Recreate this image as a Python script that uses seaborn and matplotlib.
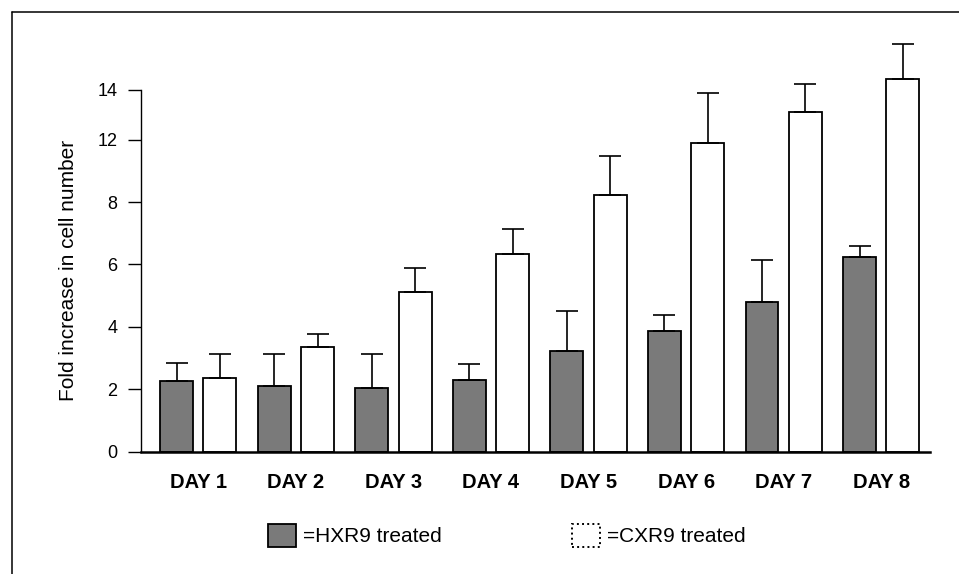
import numpy as np
import pandas as pd
import seaborn as sns
import matplotlib.pyplot as plt
from matplotlib.patches import Patch
from matplotlib.lines import Line2D

sns.set_style('ticks')
plt.rcParams['font.family'] = ['Liberation Sans', 'DejaVu Sans']
plt.rcParams.update({'text.color': 'black', 'axes.labelcolor': 'black',
                     'xtick.color': 'black', 'ytick.color': 'black',
                     'axes.edgecolor': 'black'})

# values, in the axis' own (linear) units
days = ['DAY 1', 'DAY 2', 'DAY 3', 'DAY 4', 'DAY 5', 'DAY 6', 'DAY 7', 'DAY 8']
hxr9 = [2.28, 2.12, 2.04, 2.31, 3.24, 3.87, 4.80, 6.25]
hxr9_err = [0.57, 1.02, 1.10, 0.51, 1.27, 0.52, 1.35, 0.35]
cxr9 = [2.36, 3.35, 5.13, 6.35, 8.24, 9.89, 10.89, 11.96]
cxr9_err = [0.78, 0.43, 0.76, 0.79, 1.25, 1.62, 0.89, 1.11]

# the printed tick labels are not evenly spaced on the original
tick_pos = [0, 2, 4, 6, 8, 10, 11.6]
tick_labels = ['0', '2', '4', '6', '8', '12', '14']

df = pd.DataFrame({
    'day': days * 2,
    'fold': hxr9 + cxr9,
    'treatment': ['HXR9'] * len(days) + ['CXR9'] * len(days),
})
errs = {'HXR9': hxr9_err, 'CXR9': cxr9_err}
gray = '#7a7a7a'

fig = plt.figure(figsize=(9.59, 5.74), dpi=100)
ax = fig.add_axes([0.147, 0.2131, 0.8228, 0.7338])

sns.barplot(data=df, x='day', y='fold', hue='treatment', ax=ax,
            palette={'HXR9': gray, 'CXR9': 'white'}, edgecolor='black',
            linewidth=1.3, width=0.889, gap=0.24, legend=False, errorbar=None,
            saturation=1)

for cont, name in zip(ax.containers, ['HXR9', 'CXR9']):
    xs = [b.get_x() + b.get_width() / 2 for b in cont]
    ys = [b.get_height() for b in cont]
    e = errs[name]
    ax.errorbar(xs, ys, yerr=[np.zeros(len(e)), e], fmt='none', ecolor='black',
                elinewidth=1.2, capsize=7.8, capthick=1.2, zorder=5, clip_on=False)

ax.set_xlim(-0.587, 7.5)
ax.set_ylim(0, 13.5)
ax.set_yticks(tick_pos)
ax.set_yticklabels(tick_labels)
ax.tick_params(axis='y', direction='out', length=9.4, width=1, pad=7.5, labelsize=13)
ax.tick_params(axis='x', length=0, pad=15.5, labelsize=14.5)
for t in ax.get_xticklabels():
    t.set_fontweight('bold')

sns.despine(ax=ax)
ax.spines['left'].set_bounds(0, 11.6)
ax.spines['left'].set_linewidth(1.0)
ax.spines['bottom'].set_linewidth(1.8)
ax.set_xlabel('')
ax.set_ylabel('Fold increase in cell number', fontsize=15)
ax.yaxis.set_label_coords(-0.08, 5.8 / 13.5)

handles = [Patch(facecolor=gray, edgecolor='black', linewidth=1.3),
           Patch(facecolor='white', edgecolor='black', linewidth=1.4, linestyle=':')]
fig.legend(handles, ['=HXR9 treated', '=CXR9 treated'], ncol=2, frameon=False,
           fontsize=15, handlelength=1.35, handleheight=1.3, handletextpad=0.32,
           columnspacing=6.26, loc='center left', borderpad=0, borderaxespad=0,
           bbox_to_anchor=(268.3 / 959, 1 - 535.3 / 574))

# frame around the figure (only top and left edges are visible)
fig.add_artist(Line2D([11.7 / 959, 1], [1 - 11.7 / 574] * 2, color='black', lw=1.1))
fig.add_artist(Line2D([11.7 / 959] * 2, [0, 1 - 11.7 / 574], color='black', lw=1.1))

fig.savefig('out.png', dpi=100)
